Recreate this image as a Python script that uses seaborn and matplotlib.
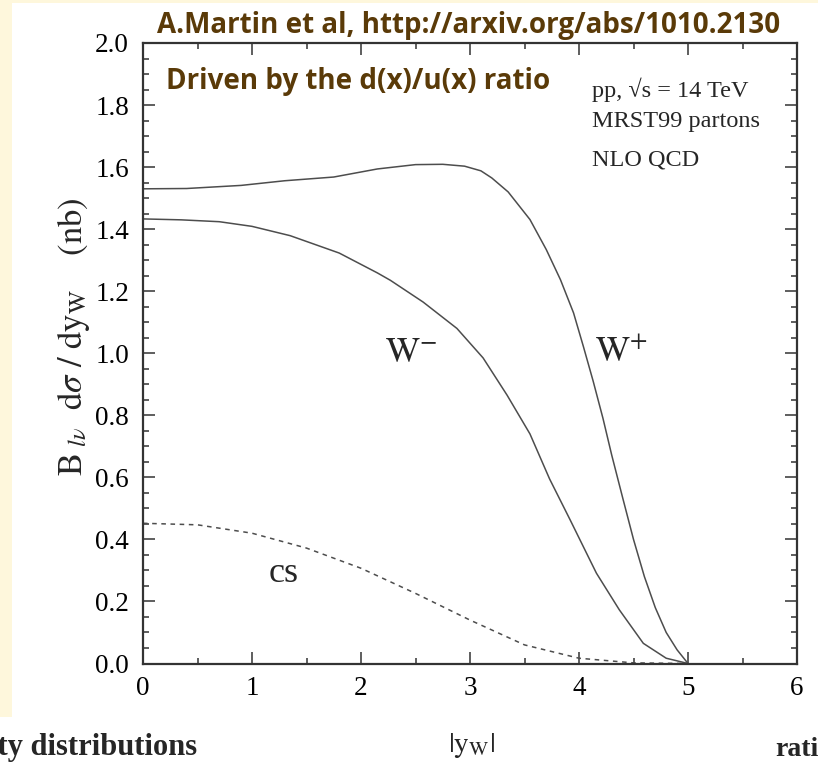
import numpy as np
import pandas as pd
import matplotlib
matplotlib.use("Agg")
import matplotlib.pyplot as plt
import seaborn as sns
from matplotlib.patches import Rectangle
from matplotlib.ticker import MultipleLocator, FormatStrFormatter

# W+ rapidity distribution
wplus_y = [0.0, 0.4, 0.9, 1.3, 1.75, 2.15, 2.5, 2.75, 2.95, 3.1, 3.2, 3.35, 3.55,
           3.7, 3.83, 3.95, 4.04, 4.13, 4.22, 4.3, 4.4, 4.5, 4.6, 4.7, 4.8, 4.9, 5.0]
wplus_xs = [1.530, 1.531, 1.541, 1.556, 1.568, 1.594, 1.608, 1.609, 1.603, 1.588,
            1.565, 1.520, 1.431, 1.334, 1.237, 1.130, 1.022, 0.910, 0.790, 0.672,
            0.535, 0.400, 0.280, 0.180, 0.100, 0.044, 0.0]

# W- rapidity distribution
wminus_y = [0.0, 0.35, 0.7, 1.0, 1.35, 1.8, 2.15, 2.27, 2.57, 2.88, 3.12, 3.34,
            3.55, 3.73, 3.92, 4.07, 4.16, 4.37, 4.59, 4.8, 5.0]
wminus_xs = [1.433, 1.430, 1.424, 1.409, 1.379, 1.323, 1.259, 1.235, 1.165, 1.080,
             0.985, 0.865, 0.740, 0.595, 0.462, 0.355, 0.291, 0.173, 0.065, 0.017, 0.0]

# cs contribution (dashed)
cs_y = [0.0, 0.5, 1.0, 1.5, 2.0, 2.5, 3.0, 3.5, 4.0, 4.5, 5.0]
cs_xs = [0.452, 0.447, 0.420, 0.372, 0.307, 0.226, 0.140, 0.060, 0.017, 0.002, 0.0]

sns.set_theme(style="ticks")
plt.rcParams['font.family'] = ['Liberation Serif', 'DejaVu Serif']
plt.rcParams['mathtext.fontset'] = 'stix'

W, H = 818, 766
fig = plt.figure(figsize=(W / 100, H / 100), dpi=100)
fig.patch.set_facecolor('white')

# slide background bits
yellow = '#fef7dc'
fig.patches.append(Rectangle((0, 1 - 717 / H), 12 / W, 717 / H, transform=fig.transFigure,
                             facecolor=yellow, edgecolor='none', zorder=0))
fig.patches.append(Rectangle((0, 1 - 3 / H), 1, 3 / H, transform=fig.transFigure,
                             facecolor=yellow, edgecolor='none', zorder=0))

ax = fig.add_axes([143 / W, 1 - 663.5 / H, (797 - 143) / W, (663.5 - 43) / H])
ax.set_facecolor('white')

line_col = '#4d4d4d'
sns.lineplot(x=wplus_y, y=wplus_xs, ax=ax, color=line_col, lw=1.1, sort=False, errorbar=None)
sns.lineplot(x=wminus_y, y=wminus_xs, ax=ax, color=line_col, lw=1.1, sort=False, errorbar=None)
sns.lineplot(x=cs_y, y=cs_xs, ax=ax, color=line_col, lw=1.1, sort=False, errorbar=None)
ax.lines[-1].set_dashes([3, 3])

ax.set_xlim(0, 6)
ax.set_ylim(0, 2)
ax.xaxis.set_major_locator(MultipleLocator(1))
ax.xaxis.set_minor_locator(MultipleLocator(0.5))
ax.yaxis.set_major_locator(MultipleLocator(0.2))
ax.yaxis.set_minor_locator(MultipleLocator(0.05))
ax.xaxis.set_major_formatter(FormatStrFormatter('%d'))
ax.yaxis.set_major_formatter(FormatStrFormatter('%.1f'))
ax.set_xlabel('')
ax.set_ylabel('')

ax.tick_params(which='both', direction='in', top=True, right=True,
               color='#333333', width=1.1, labelsize=19.5, labelcolor='black')
ax.tick_params(which='major', length=8.6)
ax.tick_params(which='minor', length=4.3)
ax.tick_params(axis='x', pad=9)
ax.tick_params(axis='y', pad=10)
for s in ax.spines.values():
    s.set_visible(True)
    s.set_linewidth(1.6)
    s.set_color('#333333')

# curve labels
ax.text(2.46, 1.0, r'$\mathrm{W}^{-}$', fontsize=26, ha='center', va='center')
ax.text(4.39, 1.0, r'$\mathrm{W}^{+}$', fontsize=26, ha='center', va='center')
ax.text(1.29, 0.29, 'cs', fontsize=26, ha='center', va='center')

# info block
ax.text(0.6865, 0.924, 'pp, \u221as = 14 TeV', transform=ax.transAxes, fontsize=17.5, va='center')
ax.text(0.6865, 0.874, 'MRST99 partons', transform=ax.transAxes, fontsize=17.5, va='center')
ax.text(0.6865, 0.811, 'NLO QCD', transform=ax.transAxes, fontsize=17.5, va='center')

brown = '#5a3a08'
fig.text(157 / W, 1 - 25 / H, 'A.Martin et al, http://arxiv.org/abs/1010.2130',
         family=['Open Sans', 'DejaVu Sans'], fontweight='bold', fontsize=20, color=brown, va='center')
fig.text(166 / W, 1 - 82 / H, 'Driven by the d(x)/u(x) ratio',
         family=['Open Sans', 'DejaVu Sans'], fontweight='bold', fontsize=20, color=brown, va='center')

# axis titles
fig.text(472 / W, 1 - 745 / H, r'$|\mathrm{y}_{\mathrm{W}}|$', fontsize=21, ha='center', va='center')
fig.text(73 / W, 1 - 337 / H,
         r'$\mathrm{B}_{\ l\nu}\ \ \mathrm{d}\sigma\ /\ \mathrm{dy}_{\mathrm{W}}\quad\ \mathrm{(nb)}$',
         fontsize=25, rotation=90, ha='center', va='center')

# cut-off slide text
fig.text(197 / W, 1 - 748 / H, 'ity distributions', fontsize=22, fontweight='bold',
         ha='right', va='center')
fig.text(775 / W, 1 - 750 / H, 'ratio', fontsize=20, fontweight='bold',
         ha='left', va='center')

fig.savefig('out.png', dpi=100, facecolor=fig.get_facecolor())
